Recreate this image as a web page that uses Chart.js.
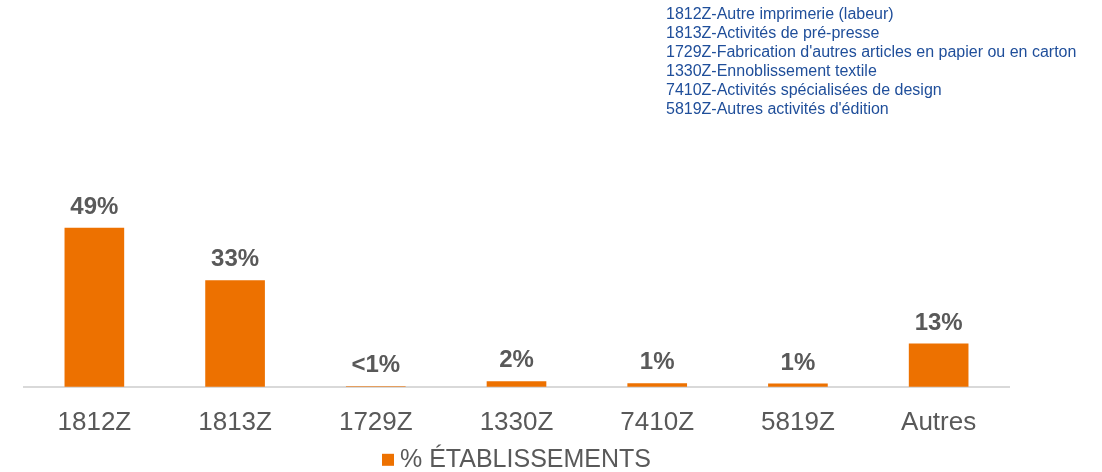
<!DOCTYPE html>
<html>
<head>
<meta charset="utf-8">
<script src="https://cdn.jsdelivr.net/npm/chart.js@4"></script>
<style>
  html, body { margin: 0; padding: 0; background: #fff; }
  #wrap { position: relative; width: 1102px; height: 472px; }
  #notes {
    position: absolute; left: 666px; top: 4px;
    font-family: "Liberation Sans", Arial, sans-serif;
    font-size: 16px; line-height: 19px; color: #1f4e9a;
  }
</style>
</head>
<body>
<div id="wrap">
  <canvas id="graphique" width="1102" height="472"></canvas>
  <div id="notes"></div>
</div>
<script>
const codes = ['1812Z', '1813Z', '1729Z', '1330Z', '7410Z', '5819Z', 'Autres'];
const pourcentages = [48.9, 32.7, 0.1, 1.6, 1.0, 0.9, 13.2];
const etiquettes = ['49%', '33%', '<1%', '2%', '1%', '1%', '13%'];
const libelles = [
    "1812Z-Autre imprimerie (labeur)",
    "1813Z-Activités de pré-presse",
    "1729Z-Fabrication d'autres articles en papier ou en carton",
    "1330Z-Ennoblissement textile",
    "7410Z-Activités spécialisées de design",
    "5819Z-Autres activités d'édition"
];

document.getElementById('notes').innerHTML = libelles.map(t => '<div>' + t + '</div>').join('');

const police = '"Liberation Sans", Arial, sans-serif';
const orange = '#ed7100';
const gris = '#595959';

// étiquettes de valeur au-dessus des barres
const etiquettesPlugin = {
    id: 'etiquettes',
    afterDatasetsDraw(chart) {
        const ctx = chart.ctx;
        const meta = chart.getDatasetMeta(0);
        ctx.save();
        ctx.font = 'bold 24px ' + police;
        ctx.fillStyle = gris;
        ctx.textAlign = 'center';
        ctx.textBaseline = 'middle';
        meta.data.forEach((bar, i) => {
            ctx.fillText(etiquettes[i], bar.x, bar.y - 21);
        });
        ctx.restore();
    }
};

// légende dessinée sous l'axe
const legendePlugin = {
    id: 'legende',
    afterDraw(chart) {
        const ctx = chart.ctx;
        const area = chart.chartArea;
        const texte = chart.data.datasets[0].label;
        ctx.save();
        ctx.font = '25px ' + police;
        const largeur = 12 + 6 + ctx.measureText(texte).width;
        const x0 = (area.left + area.right) / 2 - largeur / 2;
        const y = area.bottom + 73;
        ctx.fillStyle = orange;
        ctx.fillRect(x0, y - 6, 12, 12);
        ctx.fillStyle = gris;
        ctx.textBaseline = 'middle';
        ctx.fillText(texte, x0 + 18, y);
        ctx.restore();
    }
};

new Chart(document.getElementById('graphique').getContext('2d'), {
    type: 'bar',
    data: {
        labels: codes,
        datasets: [{
            label: '% ÉTABLISSEMENTS',
            data: pourcentages,
            backgroundColor: orange,
            barThickness: 59
        }]
    },
    options: {
        responsive: false,
        animation: false,
        layout: { padding: { left: 24, right: 93, top: 192, bottom: 14 } },
        scales: {
            x: {
                grid: { display: false, drawTicks: false },
                border: { color: '#d9d9d9', width: 2 },
                ticks: { color: gris, font: { family: police, size: 26, lineHeight: 1.2 }, padding: 20 }
            },
            y: {
                display: false,
                min: 0,
                max: 60
            }
        },
        plugins: {
            legend: { display: false },
            tooltip: { enabled: false }
        }
    },
    plugins: [etiquettesPlugin, legendePlugin]
});
</script>
</body>
</html>
